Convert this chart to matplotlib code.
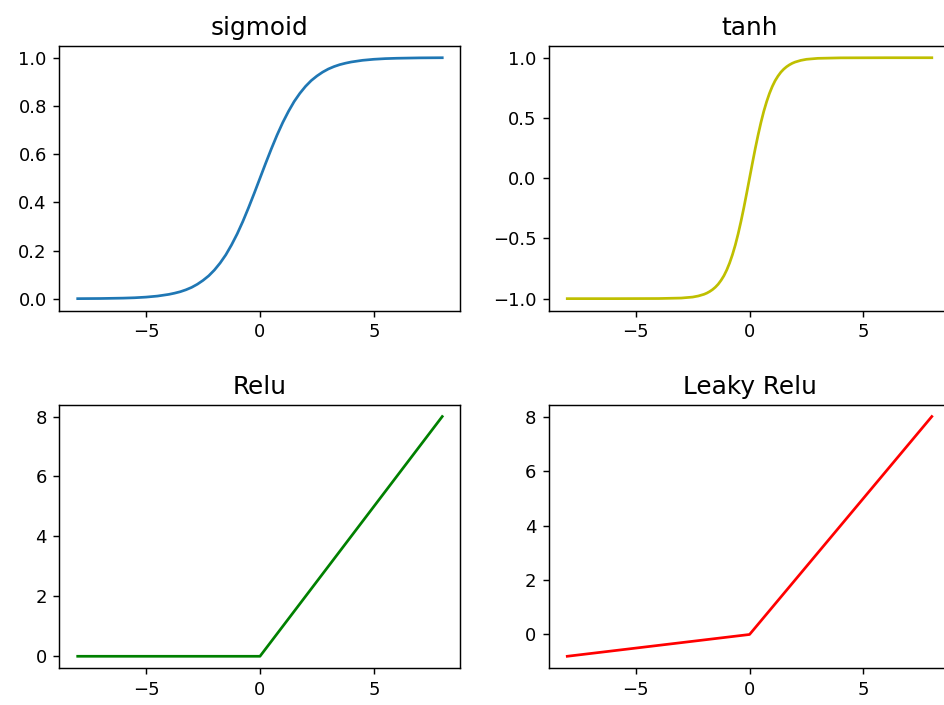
import matplotlib
matplotlib.use("Agg")
import matplotlib.pyplot as plt

# values
sig_x = [-8, -7, -6, -5.5, -5, -4.5, -4, -3.75, -3.5, -3.25, -3, -2.75,
         -2.5, -2.25, -2, -1.75, -1.5, -1.25, -1, -0.75, -0.5, -0.25, 0,
         0.25, 0.5, 0.75, 1, 1.25, 1.5, 1.75, 2, 2.25, 2.5, 2.75, 3, 3.25,
         3.5, 3.75, 4, 4.5, 5, 5.5, 6, 7, 8]
sig_y = [0.0003, 0.0009, 0.0025, 0.004, 0.0067, 0.011, 0.018, 0.023, 0.029,
         0.037, 0.047, 0.060, 0.076, 0.095, 0.119, 0.148, 0.182, 0.223, 0.269,
         0.321, 0.378, 0.438, 0.5, 0.562, 0.622, 0.679, 0.731, 0.777, 0.818,
         0.852, 0.881, 0.905, 0.924, 0.940, 0.953, 0.963, 0.971, 0.977, 0.982,
         0.989, 0.9933, 0.996, 0.9975, 0.9991, 0.9997]

tanh_x = [-8, -6, -4, -3, -2.5, -2.25, -2, -1.875, -1.75, -1.625, -1.5,
          -1.375, -1.25, -1.125, -1, -0.875, -0.75, -0.625, -0.5, -0.375,
          -0.25, -0.125, 0, 0.125, 0.25, 0.375, 0.5, 0.625, 0.75, 0.875, 1,
          1.125, 1.25, 1.375, 1.5, 1.625, 1.75, 1.875, 2, 2.25, 2.5, 3, 4, 6, 8]
tanh_y = [-1.0, -1.0, -0.999, -0.995, -0.987, -0.978, -0.964, -0.954, -0.941,
          -0.925, -0.905, -0.880, -0.848, -0.810, -0.762, -0.704, -0.635,
          -0.555, -0.462, -0.358, -0.245, -0.124, 0.0, 0.124, 0.245, 0.358,
          0.462, 0.555, 0.635, 0.704, 0.762, 0.810, 0.848, 0.880, 0.905, 0.925,
          0.941, 0.954, 0.964, 0.978, 0.987, 0.995, 0.999, 1.0, 1.0]

relu_x = [-8, 0, 8]
relu_y = [0, 0, 8]

leaky_x = [-8, 0, 8]
leaky_y = [-0.8, 0, 8]

fig = plt.figure(figsize=(944 / 130, 705 / 130), dpi=130)

left_col, right_col, width = 0.0630, 0.5816, 0.4248
top_row, bot_row = 0.5593, 0.0521
title_size = 13.7

ax1 = fig.add_axes([left_col, top_row, width, 0.3759])
ax1.plot(sig_x, sig_y)
ax1.set_title("sigmoid", fontsize=title_size)

ax2 = fig.add_axes([right_col, top_row, width, 0.3759])
ax2.plot(tanh_x, tanh_y, color="y")
ax2.set_title("tanh", fontsize=title_size)

ax3 = fig.add_axes([left_col, bot_row, width, 0.3741])
ax3.plot(relu_x, relu_y, color="g")
ax3.set_title("Relu", fontsize=title_size)

ax4 = fig.add_axes([right_col, bot_row, width, 0.3741])
ax4.plot(leaky_x, leaky_y, color="r")
ax4.set_title("Leaky Relu", fontsize=title_size)

fig.savefig("out.png", dpi=130)
